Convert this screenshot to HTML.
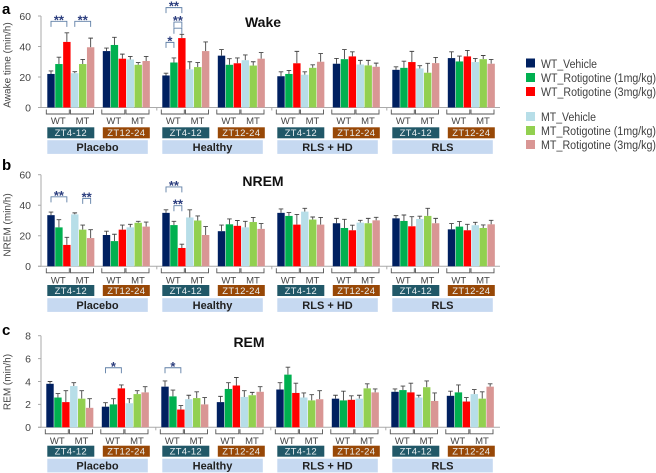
<!DOCTYPE html>
<html>
<head>
<meta charset="utf-8">
<style>
html,body{margin:0;padding:0;background:#fff;width:656px;height:473px;overflow:hidden}
svg{display:block;font-family:"Liberation Sans",sans-serif;filter:blur(0.35px)}
</style>
</head>
<body>
<svg id="chart" width="656" height="473" viewBox="0 0 656 473" xmlns="http://www.w3.org/2000/svg">
  <g font-size="11.5" fill="#404040">
    <rect x="526" y="58.5" width="9" height="9" fill="#002060"/>
    <text x="541" y="68" textLength="56" lengthAdjust="spacingAndGlyphs">WT_Vehicle</text>
    <rect x="526" y="73" width="9" height="9" fill="#00B050"/>
    <text x="541" y="82" textLength="115" lengthAdjust="spacingAndGlyphs">WT_Rotigotine (1mg/kg)</text>
    <rect x="526" y="87" width="9" height="9" fill="#FF0000"/>
    <text x="541" y="96" textLength="115" lengthAdjust="spacingAndGlyphs">WT_Rotigotine (3mg/kg)</text>
    <rect x="526" y="112" width="9" height="9" fill="#B7DEE8"/>
    <text x="541" y="121" textLength="55" lengthAdjust="spacingAndGlyphs">MT_Vehicle</text>
    <rect x="526" y="126" width="9" height="9" fill="#92D050"/>
    <text x="541" y="135" textLength="115" lengthAdjust="spacingAndGlyphs">MT_Rotigotine (1mg/kg)</text>
    <rect x="526" y="140" width="9" height="9" fill="#D99694"/>
    <text x="541" y="149" textLength="115" lengthAdjust="spacingAndGlyphs">MT_Rotigotine (3mg/kg)</text>
  </g>
</svg>
<script>
// Shared categories and tick labels
const treatments = ['Placebo', 'Healthy', 'RLS + HD', 'RLS'];
const zeitgeberLabels = ['ZT4-12', 'ZT12-24'];
const genotypeLabels = ['WT', 'MT'];
const seriesColors = ['#002060', '#00B050', '#FF0000', '#B7DEE8', '#92D050', '#D99694'];
const wakeTicks = [0, 20, 40, 60];
const nremTicks = [0, 20, 40, 60];
const remTicks = [0, 2, 4, 6, 8];

// Panel a: Wake
const wakeMeans = [
  [22, 28.5, 43, 22.5, 28.5, 39.5], [37, 41, 32, 31.5, 28, 30.5],
  [21, 29.5, 45.5, 25, 26.5, 37], [34, 28, 29, 31, 27.5, 32],
  [20.5, 22, 29, 21.5, 26, 30], [28.7, 31.7, 33.5, 28.2, 27.6, 26.7],
  [24.7, 26, 29.8, 25.6, 22.8, 29.1], [32.4, 30.2, 33.5, 29.8, 31.7, 28.7]
];
const wakeUpper = [
  [24, 33, 49, 23.5, 31.5, 45.5], [39, 46, 35, 33.5, 29.5, 33.5],
  [22.5, 32.5, 48, 30, 29.5, 43], [38, 32, 32.5, 34.5, 30, 36],
  [23.4, 24.3, 36.8, 23.4, 28, 35.4], [32.2, 38, 36.5, 30.9, 30.9, 29.1],
  [26.7, 30.4, 36.8, 27.4, 29, 32.8], [36.5, 33.7, 37.4, 32.2, 34.1, 31.5]
];
const wakeSignificance = [
  [0, 0, 2, 56.5, '**'], [0, 3, 5, 56.5, '**'],
  [2, 0, 2, 65.5, '**'], [2, 1, 2, 56, '**'], [2, 1, 2, 52, ''], [2, 0, 1, 42.7, '*']
];

// Panel b: NREM
const nremMeans = [
  [33.5, 25.5, 14, 34, 24, 18.5], [20.5, 16.5, 24, 25.5, 28.5, 26],
  [35, 27, 12, 32, 30, 20.5], [23, 27.5, 26.5, 25.5, 29, 24.5],
  [35, 33, 27.3, 35.8, 30.6, 27.3], [28.2, 25.1, 23.6, 28.6, 28.2, 30.1],
  [31.4, 29.7, 26.2, 31, 33, 28.2], [24.2, 26, 23.6, 26.9, 25.1, 27.5]
];
const nremUpper = [
  [35.5, 30.5, 19, 35, 27, 24], [23, 21, 27, 27.5, 29.5, 29],
  [37, 29.5, 14.5, 37, 33, 26], [27, 31, 30, 29.5, 32, 28],
  [37.6, 35.2, 34, 38, 32.3, 32], [31.4, 30.8, 26.9, 30.1, 31.4, 32.1],
  [33.2, 33.6, 32.5, 32.8, 38, 31.4], [28, 29.3, 27.5, 28.8, 27.1, 30.1]
];
const nremSignificance = [
  [0, 0, 2, 45.5, '**'], [0, 4, 5, 44.5, '**'],
  [2, 0, 2, 52, '**'], [2, 1, 2, 39.7, '**']
];

// Panel c: REM
const remMeans = [
  [3.8, 2.6, 2.2, 3.6, 2.5, 1.7], [1.8, 2, 3.4, 2.1, 2.9, 3.05],
  [3.55, 2.7, 1.55, 2.45, 2.55, 2], [2.2, 3.35, 3.65, 2.65, 2.8, 3.1],
  [3.3, 4.6, 3, 2.6, 2.35, 2.45], [2.5, 2.35, 2.4, 2.5, 3.4, 3.05],
  [3.1, 3.25, 3.05, 2.6, 3.5, 2.3], [2.75, 3.05, 2.25, 2.9, 2.5, 3.55]
];
const remUpper = [
  [4, 2.95, 3.2, 3.9, 3.2, 2.5], [2.15, 2.5, 3.7, 2.5, 3.2, 3.55],
  [4.05, 3.25, 1.9, 2.8, 3.1, 2.6], [2.7, 3.9, 4.35, 3.2, 3.05, 3.55],
  [3.9, 5.25, 3.85, 3, 2.85, 3.2], [2.8, 3.15, 2.75, 2.8, 3.8, 3.35],
  [3.35, 3.6, 3.85, 2.8, 4.05, 3], [3.15, 3.7, 2.6, 3.3, 3.1, 3.8]
];
const remSignificance = [[1, 0, 2, 5.2, '*'], [2, 0, 2, 5.2, '*']];

const svg = document.getElementById('chart');
const NS = 'http://www.w3.org/2000/svg';
function make(tag, attrs, parent, text) {
  const el = document.createElementNS(NS, tag);
  for (const k in attrs) el.setAttribute(k, attrs[k]);
  if (text !== undefined) el.textContent = text;
  parent.appendChild(el);
  return el;
}
function groupX(g, shift) {
  return 47.3 + shift + Math.floor(g / 2) * 115 + (g % 2) * 55.5;
}
function barX(g, i, shift) {
  return groupX(g, shift) + i * 7.93;
}

function drawPanel(p) {
  const root = make('g', {}, svg);
  
  
  const yMax = p.ticks[p.ticks.length - 1];
  const yScale = v => p.zeroY - v * (p.zeroY - p.topY) / yMax;

  const letter = make('text', {x: 2, y: p.letterY, 'font-size': 15, 'font-weight': 'bold', fill: '#000'}, root, p.letter);
  
  

  const title = make('text', {x: p.titleX, y: p.titleY, 'font-size': 14, 'font-weight': 'bold', fill: '#111', 'text-anchor': 'middle'}, root, p.title);
  
  

  const yTitle = make('text', {x: 0, y: 0, 'font-size': 10, fill: '#444', 'text-anchor': 'middle', transform: 'translate(10.5,' + p.yTitleY + ') rotate(-90)'}, root, p.yTitle);
  
  

  const yAxis = make('line', {x1: 41, x2: 41, y1: p.topY, y2: p.zeroY, stroke: '#aaa', 'stroke-width': 1}, root);
  
  
  const xAxis = make('line', {x1: 38, x2: 500, y1: p.zeroY, y2: p.zeroY, stroke: '#aaa', 'stroke-width': 1}, root);
  
  

  p.ticks.forEach(t => {
    const y = yScale(t);
    const tick = make('line', {x1: 38, x2: 41, y1: y, y2: y, stroke: '#aaa', 'stroke-width': 1}, root);
    
    
    const label = make('text', {x: 31, y: y + 3.8, 'font-size': 10.5, fill: '#444', 'text-anchor': 'end'}, root, t);
    
    
  });

  treatments.forEach((name, t) => {
    if (t > 0) {
      const sepX = groupX(t * 2, p.shift) - 5.5;
      const sep = make('line', {x1: sepX, x2: sepX, y1: p.zeroY, y2: p.zeroY + 3, stroke: '#aaa', 'stroke-width': 1}, root);
      
      
    }
    const gx = groupX(t * 2, 0);
    const band = make('rect', {x: gx, y: p.bandY, width: 100.5, height: 13.7, fill: '#C6D9F1'}, root);
    
    
    const label = make('text', {x: gx + 50.2, y: p.bandY + 10.8, 'font-size': 11, 'font-weight': 'bold', fill: '#222', 'text-anchor': 'middle'}, root, name);
    
    
  });

  p.means.forEach((group, g) => {
    const zx = groupX(g, 0);
    const zbox = make('rect', {x: zx, y: p.ztY, width: 47, height: 11, fill: g % 2 ? '#984807' : '#215868'}, root);
    
    
    const ztext = make('text', {x: zx + 23.5, y: p.ztY + 8.9, 'font-size': 9.5, fill: '#e8eef0', 'text-anchor': 'middle', 'letter-spacing': '0.3'}, root, zeitgeberLabels[g % 2]);
    
    

    genotypeLabels.forEach((geno, k) => {
      const bx = groupX(g, p.shift) - 1 + k * 24.2;
      const by = p.zeroY + p.bracketGap;
      const bracket = make('path', {d: 'M' + bx + ' ' + by + 'v4.5h23v-4.5', fill: 'none', stroke: '#555', 'stroke-width': 0.9}, root);
      
      
      const gtext = make('text', {x: bx + 12, y: p.genoY, 'font-size': 9.5, fill: '#444', 'text-anchor': 'middle'}, root, geno);
      
      
    });

    group.forEach((v, i) => {
      const x = barX(g, i, p.shift);
      const w = 7.4;
      const cx = x + w / 2;
      const top = yScale(v);
      const upper = yScale(p.upper[g][i]);
      const whisker = make('path', {d: 'M' + cx + ' ' + top + 'V' + upper + 'M' + (cx - 2.3) + ' ' + upper + 'H' + (cx + 2.3), fill: 'none', stroke: '#444', 'stroke-width': 0.9}, root);
      
      
      const bar = make('rect', {x: x, y: top, width: w, height: p.zeroY - top, fill: seriesColors[i]}, root);
      
      
    });
  });

  p.significance.forEach(s => {
    const x1 = barX(s[0], s[1], p.shift) + 3.7;
    const x2 = barX(s[0], s[2], p.shift) + 3.7;
    const y = yScale(s[3]);
    const sig = make('path', {d: 'M' + x1 + ' ' + (y + 5.5) + 'V' + y + 'H' + x2 + 'V' + (y + 5.5), fill: 'none', stroke: '#5f7fa6', 'stroke-width': 0.9}, root);
    
    
    if (s[4]) {
      const star = make('text', {x: (x1 + x2) / 2, y: y + 3, 'font-size': 13, 'font-weight': 'bold', fill: '#2c3e7e', 'text-anchor': 'middle'}, root, s[4]);
      
      
    }
  });
}

drawPanel({key: 'wake', letter: 'a', letterY: 14, title: 'Wake', titleX: 263, titleY: 27, yTitle: 'Awake time (min/h)', yTitleY: 65,
  ticks: wakeTicks, means: wakeMeans, upper: wakeUpper, significance: wakeSignificance,
  zeroY: 107.5, topY: 16, shift: 0, bracketGap: 2, genoY: 124, ztY: 127.3, bandY: 140.2});
drawPanel({key: 'nrem', letter: 'b', letterY: 170, title: 'NREM', titleX: 263, titleY: 186, yTitle: 'NREM (min/h)', yTitleY: 225,
  ticks: nremTicks, means: nremMeans, upper: nremUpper, significance: nremSignificance,
  zeroY: 266.3, topY: 174.7, shift: 0, bracketGap: 2, genoY: 283.5, ztY: 285, bandY: 298.2});
drawPanel({key: 'rem', letter: 'c', letterY: 335, title: 'REM', titleX: 249, titleY: 347, yTitle: 'REM (min/h)', yTitleY: 382,
  ticks: remTicks, means: remMeans, upper: remUpper, significance: remSignificance,
  zeroY: 427.3, topY: 335.7, shift: -1, bracketGap: 2, genoY: 444.2, ztY: 445.7, bandY: 458.7});
</script>
</body>
</html>
